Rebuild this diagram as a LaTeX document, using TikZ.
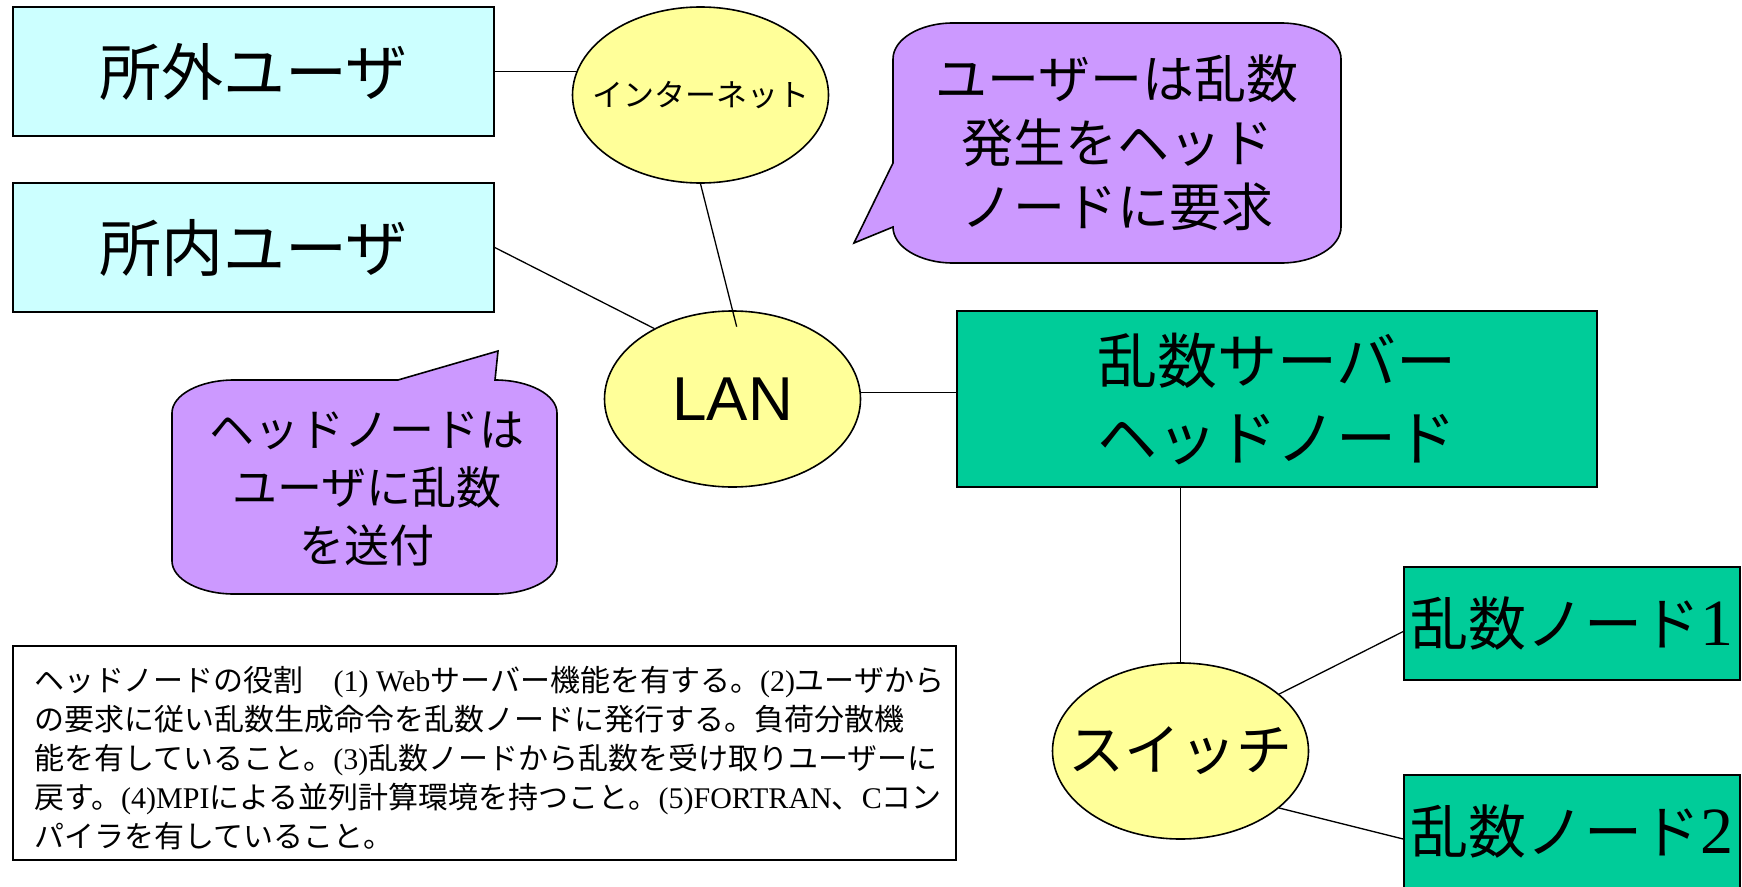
\documentclass[tikz,border=0pt]{standalone}
\usepackage{fontspec}
\setmainfont{Noto Sans CJK JP}
\newfontfamily\tms{Liberation Serif}
\newfontfamily\arial{Liberation Sans}
\usetikzlibrary{shapes.geometric,calc}
\definecolor{cyanbg}{HTML}{CCFFFF}
\definecolor{yel}{HTML}{FFFF99}
\definecolor{grnbg}{HTML}{00CC99}
\definecolor{purp}{HTML}{CC99FF}
\newcommand\fsz[2]{\fontsize{#1}{#2}\selectfont}
\begin{document}
\begin{tikzpicture}[x=1pt,y=-1pt,
  box/.style={draw=black,line width=1.6pt,rectangle,inner sep=0pt,align=center},
  usr/.style={box,fill=cyanbg,minimum width=481pt,minimum height=129pt,font=\fsz{62}{70}},
  oval/.style={draw=black,line width=1.6pt,ellipse,fill=yel,inner sep=0pt,minimum width=256pt,minimum height=176pt},
  grnbox/.style={box,fill=grnbg},
  link/.style={draw=black,line width=1.3pt},
  callout/.style={draw=black,line width=1.6pt,fill=purp}]
\useasboundingbox (0,0) rectangle (1742,886);
\clip (0,0) rectangle (1742,886);

% user boxes
\node[usr] (soto) at (253.5,71.5) {所外ユーザ};
\node[usr] (shonai) at (253.5,247.5) {所内ユーザ};

% ellipses (text as centred labels so the ellipse keeps its size)
\node[oval,label={[name=inettext,font=\fsz{31}{36}]center:インターネット}] (inet) at (700.5,95) {};
\node[oval,label={[name=lantext,font=\arial\fsz{62}{70}]center:LAN}] (lan) at (732.5,399) {};
\node[oval,label={[name=switchtext,font=\fsz{56}{64}]center:スイッチ}] (switch) at (1180.5,751) {};

% green boxes
\node[grnbox,minimum width=640pt,minimum height=176pt,font=\fsz{60}{77}] (server) at (1277,399) {乱数サーバー\\ヘッドノード};
\node[grnbox,minimum width=336pt,minimum height=113pt,font=\fsz{58}{64}] (node1) at (1572,623.5) {乱数ノード{\tms\fsz{66}{66}1}};
\node[grnbox,minimum width=336pt,minimum height=113pt,font=\fsz{58}{64}] (node2) at (1572,831.5) {乱数ノード{\tms\fsz{66}{66}2}};

% callouts
\draw[callout] (893,59) arc[start angle=180,end angle=90,x radius=60pt,y radius=36pt]
  -- (1281,23) arc[start angle=90,end angle=0,x radius=60pt,y radius=36pt]
  -- (1341,227) arc[start angle=0,end angle=-90,x radius=60pt,y radius=36pt]
  -- (953,263) arc[start angle=270,end angle=180,x radius=60pt,y radius=36pt]
  -- (854,243) -- (893,163) -- cycle;
\node[font=\fsz{52}{64},align=center,inner sep=0pt] (c1text) at (1117,143) {ユーザーは乱数\\発生をヘッド\\ノードに要求};

\draw[callout] (172,413) arc[start angle=180,end angle=90,x radius=62pt,y radius=33pt]
  -- (398,380) -- (498,351) -- (495,380)
  arc[start angle=90,end angle=0,x radius=62pt,y radius=33pt]
  -- (557,561) arc[start angle=0,end angle=-90,x radius=62pt,y radius=33pt]
  -- (234,594) arc[start angle=270,end angle=180,x radius=62pt,y radius=33pt]
  -- cycle;
\node[font=\fsz{45}{58},align=center,inner sep=0pt] (c2text) at (367,489) {ヘッドノードは\\ユーザに乱数\\を送付};

% note box
\node[draw=black,line width=1.4pt,rectangle,fill=white,minimum width=943pt,minimum height=214pt,inner sep=0pt] (notebox) at (484.5,753) {};
\node[anchor=north west,inner sep=0pt,align=left,font=\fsz{30}{39}] (notetext) at (34,666)
{ヘッドノードの役割　{\tms (1) Web}サーバー機能を有する。{\tms (2)}ユーザから\\
の要求に従い乱数生成命令を乱数ノードに発行する。負荷分散機\\
能を有していること。{\tms (3)}乱数ノードから乱数を受け取りユーザーに\\
戻す。{\tms (4)MPI}による並列計算環境を持つこと。{\tms (5)FORTRAN}、{\tms C}コン\\
パイラを有していること。};

% connectors
\draw[link] (soto.east) -- ($(soto.east -| inet.west)+(5,0)$);
\draw[link] (shonai.east) -- (lan.138);
\draw[link,shorten >=-17pt] (inet.south) -- (lan.north);
\draw[link] (lan.3.6) -- (lan.3.6 -| server.west);
\draw[link] (switch.north |- server.south) -- (switch.north);
\draw[link] (switch.30) -- ([yshift=-8pt]node1.west);
\draw[link] (switch.-30) -- ([yshift=-7.5pt]node2.west);
\end{tikzpicture}
\end{document}
